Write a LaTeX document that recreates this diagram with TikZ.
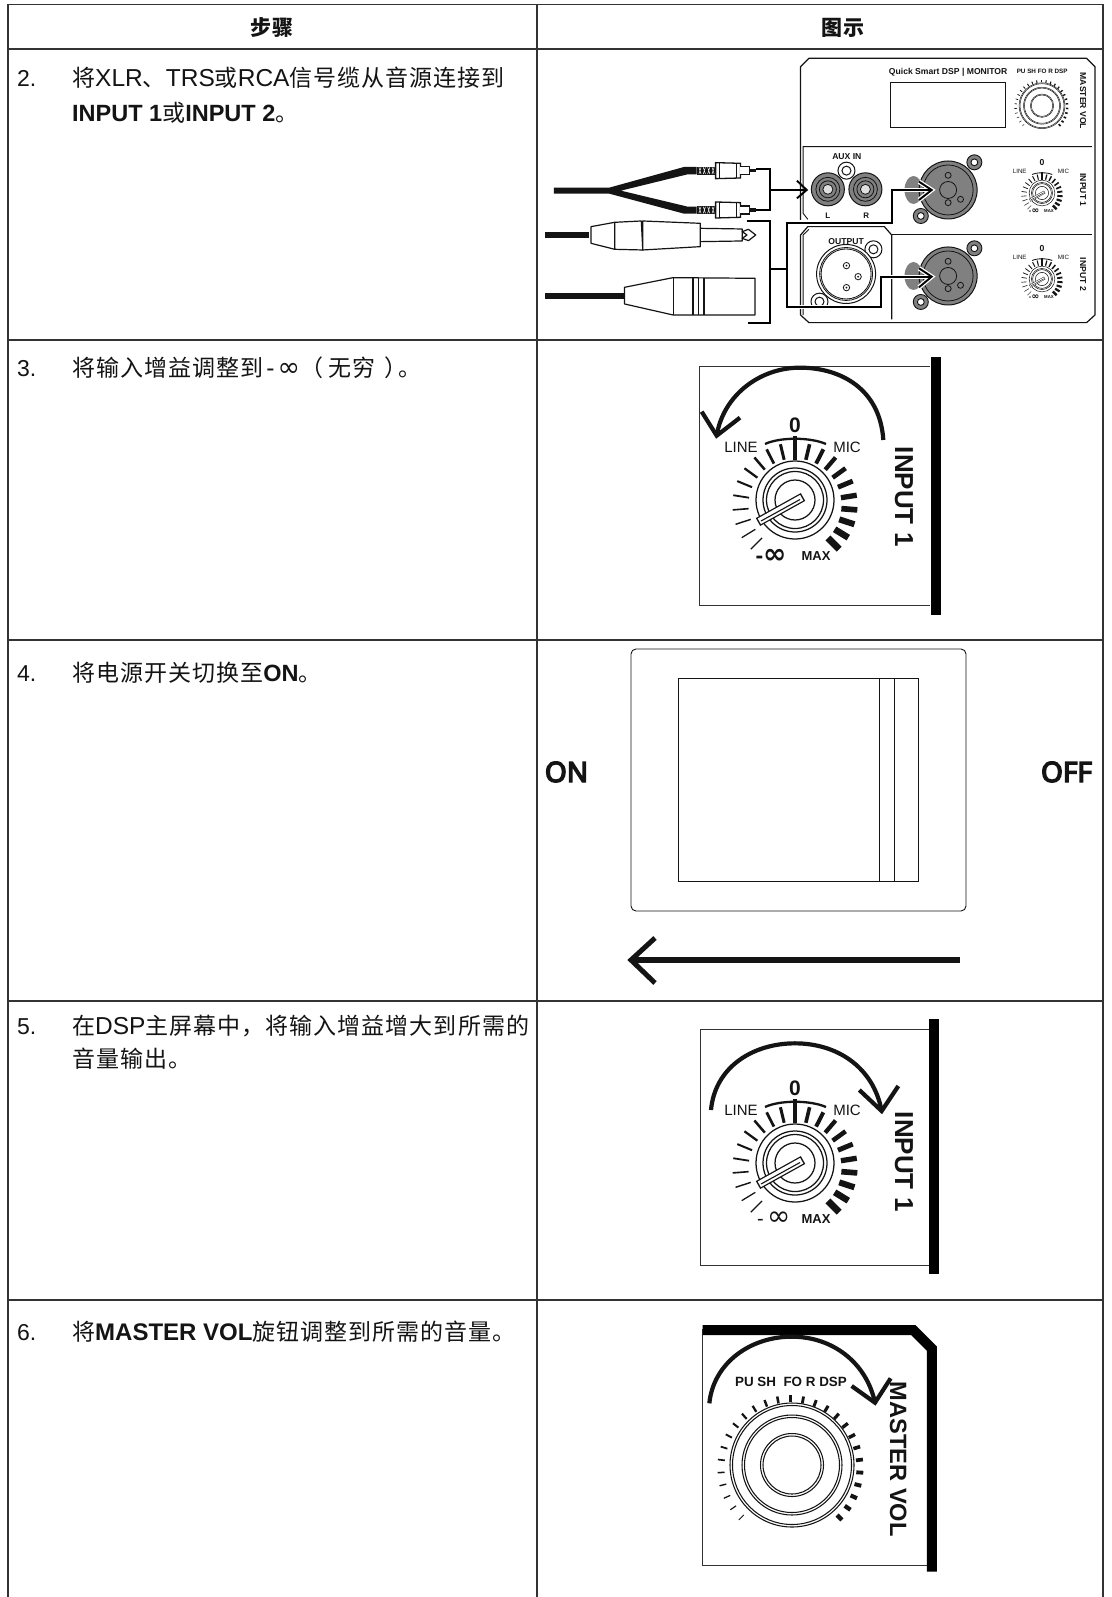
\documentclass[tikz,border=0pt]{standalone}
\usetikzlibrary{calc}
\usepackage{fontspec}
\setmainfont{Liberation Sans}
\newfontfamily\cjk[LetterSpace=4.5]{Noto Sans CJK SC}
\newfontfamily\dvs{DejaVu Sans}
\newfontfamily\noto[FakeBold=5]{Noto Sans}
\newcommand{\fsz}[1]{\fontsize{#1}{#1}\selectfont}
\newcommand{\C}[1]{{\fsz{23}\cjk #1}}
\newcommand{\HC}[1]{{\cjk #1}}
\newcommand{\Bn}[1]{{\fsz{23.5}\bfseries #1}}
\definecolor{ink}{gray}{0.08}
\definecolor{rulegray}{gray}{0.2}
\definecolor{jack}{gray}{0.5}
\tikzset{
  rowtext/.style={anchor=base west,inner sep=0pt,text=ink,font=\fsz{24.5}},
  head/.style={anchor=center,inner sep=0pt,text=ink,font=\fsz{21}\bfseries},
  tblline/.style={draw=rulegray,line width=1.1pt},
  lbl/.style={anchor=center,inner sep=0pt,text=ink},
  panel/.style={draw=ink,line width=1.2pt,line join=round},
  wire/.style={draw=black,line width=1.9pt,line join=miter},
  swing/.style={draw=ink,line width=4.2pt,line cap=butt,line join=miter},
  frameline/.style={draw=rulegray,line width=.9pt},
}
% input gain knob; #1,#2 centre, #3 scale, #4 infinity label, #5 name prefix, \lblk spreads the upper labels
\newcommand{\lblk}{1}
\newcommand{\inputknob}[5]{%
\begin{scope}[shift={(#1,#2)},scale=#3,transform shape]
  \foreach \i in {0,1,2,3,4,5,6,7,8,9,11,12,13,14,15,16,17,18,19,20}{
    \pgfmathsetmacro\ta{225-13.5*\i}
    \pgfmathsetmacro\tw{#3*(1+0.15*\i+0.007*\i*\i)+0.1}
    \draw[ink,line width=\tw pt] ($(0,5)+(-\ta:46.5)$) -- ($(0,5)+(-\ta:62.5)$);
  }
  \draw[ink,line width=#3*2.2pt+.1pt] (-30,-56) .. controls (-15,-63) and (15,-63) .. (31,-56);
  \draw[ink,line width=#3*3pt+.1pt] (0,-64) -- (0,-40);
  \draw[ink,line width=#3*1.1pt+.15pt,fill=white] (0,0) circle[radius=39];
  \draw[ink,line width=#3*1.1pt+.15pt] (0,0) circle[radius=32];
  \draw[ink,line width=#3*1.1pt+.15pt] (0,0) circle[radius=28.5];
  \draw[ink,line width=#3*1.1pt+.15pt] (0,0) circle[radius=20];
  \draw[ink,line width=#3*9pt] (-37,22) -- (8,-3);
  \draw[white,line width=#3*6.4pt] (-35.7,21.3) -- (6.7,-2.3);
  \draw[ink,line width=#3*1pt+.1pt] (-34,21) -- (5,-0.5);
  \node[lbl,font=\fsz{15},scale=\lblk] (#5line) at (\lblk*-54,\lblk*-53) {LINE};
  \node[lbl,font=\fsz{15},scale=\lblk] (#5mic) at (\lblk*52,\lblk*-53) {MIC};
  \node[lbl,font=\fsz{21}\bfseries,scale=\lblk] (#5zero) at (0,\lblk*-75) {0};
  \node[lbl,font=\fsz{13}\bfseries] (#5max) at (21,56) {MAX};
  \node[lbl] (#5inf) at (-24,56) {#4};
\end{scope}}
\newcommand{\masterknob}[3]{%
\begin{scope}[shift={(#1,#2)},scale=#3]
  \foreach \i in {0,...,26}{
    \pgfmathsetmacro\ta{225-270/26*\i}
    \pgfmathsetmacro\tw{#3*(0.9+0.13*\i)+0.1}
    \draw[ink,line width=\tw pt] ($(-1.6,3.3)+(-\ta:66)$) -- ($(-1.6,3.3)+(-\ta:73)$);
  }
  \foreach \r in {62,59.5,50,47.5,31.5,29}{
    \draw[ink,line width=#3*0.9pt+.15pt] (0,0) circle[radius=\r];
  }
\end{scope}}
\newcommand{\rcaplug}[1]{%
\begin{scope}[yshift=#1*-0.3333pt]
  \fill[ink] (430,-12) rectangle (482,12);
  \foreach \k in {436,448,460,472}{\draw[white,line width=.5pt] (\k,-10) -- (\k+6,10) (\k+6,-10) -- (\k,10);}
  \draw[ink,line width=1.3pt,fill=white] (482,-24) -- (550,-22) -- (550,22) -- (482,24) -- cycle;
  \draw[ink,line width=1pt] (492,-24) -- (492,24) (540,-22) -- (540,22);
  \draw[ink,line width=1.2pt,fill=white] (550,-12) -- (575,-12) -- (575,12) -- (550,12);
  \fill[ink] (575,-5) rectangle (594,5);
\end{scope}}
\newcommand{\combo}[2]{%
\begin{scope}[yshift=#2*-0.3333pt]
  \fill[jack] (1025,0) ellipse[x radius=9pt,y radius=14pt];
  \draw[ink,line width=.9pt,fill=jack] (1192,-83) circle[radius=7.5pt];
  \draw[ink,line width=.9pt,fill=white] (1192,-83) circle[radius=3.4pt];
  \draw[ink,line width=.9pt,fill=jack] (1045,78) circle[radius=7.5pt];
  \draw[ink,line width=.9pt,fill=white] (1045,78) circle[radius=3.4pt];
  \draw[ink,line width=1pt,fill=jack] (1120,0) circle[radius=29pt];
  \draw[ink,line width=.8pt] (1120,0) circle[radius=25pt];
  \draw[ink,line width=.8pt,fill=jack] (1120,0) circle[radius=8.5pt];
  \draw[ink,line width=.8pt,fill=jack] (1120,-44) circle[radius=3pt] (1154,28) circle[radius=3pt] (1120,38) circle[radius=3pt];
\end{scope}}
\begin{document}
\begin{tikzpicture}[x=1pt,y=-1pt]
\useasboundingbox (0,0) rectangle (1111,1597);
\fill[white] (0,0) rectangle (1111,1597);
% table
\draw[tblline] (8,1597) -- (8,4.5) -- (1103,4.5) -- (1103,1597);
\draw[tblline] (537,4.5) -- (537,1597);
\foreach \yy in {49,340,640,1001,1300}{\draw[tblline] (8,\yy) -- (1103,\yy);}
\node[head] (h1) at (272,28) {\HC{步骤}};
\node[head] (h2) at (843,28) {\HC{图示}};
% left column
\node[rowtext,font=\fsz{23}] (n2) at (17,87) {2.};
\node[rowtext] (t2a) at (72,87) {\C{将}XLR\C{、}TRS\C{或}RCA\C{信号缆从音源连接到}};
\node[rowtext] (t2b) at (72,122) {\Bn{INPUT 1}\C{或}\Bn{INPUT 2}\C{。}};
\node[rowtext,font=\fsz{23}] (n3) at (17,376) {3.};
\node[rowtext] (t3) at (72,376) {\C{将输入增益调整到}\hspace{3pt}-\hspace{3pt}{\dvs\fsz{27}∞}\C{（}\hspace{5pt}\C{无穷}\hspace{9pt}\C{）}\hspace{-9pt}\C{。}};
\node[rowtext,font=\fsz{23}] (n4) at (17,681) {4.};
\node[rowtext] (t4) at (72,681) {\C{将电源开关切换至}\Bn{ON}\C{。}};
\node[rowtext,font=\fsz{23}] (n5) at (17,1034) {5.};
\node[rowtext] (t5a) at (72,1034) {\C{在}DSP\C{主屏幕中，将输入增益增大到所需的}};
\node[rowtext] (t5b) at (72,1067) {\C{音量输出。}};
\node[rowtext,font=\fsz{23}] (n6) at (17,1340) {6.};
\node[rowtext] (t6) at (72,1340) {\C{将}{\fsz{24}\bfseries MASTER VOL}\C{旋钮调整到所需的音量。}};

% ---------- row 2 figure
\begin{scope}[shift={(540,50)},x=0.3644pt,y=-0.3333pt]
  \draw[panel] (715,510) -- (715,50) -- (738,25) -- (1500,25) -- (1523,50) -- (1523,795) -- (1500,818) -- (738,818) -- (715,795) -- (715,555) -- (735,530) -- (945,530) -- (965,555) -- (965,808);
  \draw[ink,line width=.9pt] (722,795) -- (722,555) -- (738,538);
  \draw[ink,line width=.9pt] (735,508) -- (722,490) -- (722,290) -- (1515,290);
  \draw[ink,line width=.9pt] (965,552) -- (1515,552);
  \node[lbl,font=\fsz{8.6}\bfseries] (qs) at (1120,68) {Quick Smart DSP | MONITOR};
  \draw[ink,line width=.9pt] (962,96) rectangle (1276,231);
  \node[lbl,font=\fsz{6.3}\bfseries] (push) at (1378,65) {PU SH FO R DSP};
  \node[lbl,font=\fsz{8.6}\bfseries,rotate=-90] (mv) at (1490,153) {MASTER VOL};
  \node[lbl,font=\fsz{8.6}\bfseries,rotate=-90] (i1) at (1490,420) {INPUT 1};
  \node[lbl,font=\fsz{8.6}\bfseries,rotate=-90] (i2) at (1490,673) {INPUT 2};
  % aux
  \node[lbl,font=\fsz{8.6}\bfseries] (aux) at (842,320) {AUX IN};
  \node[lbl,font=\fsz{8}\bfseries] (ll) at (790,498) {L};
  \node[lbl,font=\fsz{8}\bfseries] (rr) at (895,498) {R};
  \draw[ink,line width=1pt] (841,362) circle[radius=8.5pt] (841,362) circle[radius=4.5pt];
  \foreach \xx in {790,893}{
    \draw[ink,line width=1pt,fill=jack] (\xx,418) circle[radius=16.5pt];
    \draw[ink,line width=.8pt] (\xx,418) circle[radius=12pt] (\xx,418) circle[radius=8.5pt];
    \draw[ink,line width=.8pt,fill=white!75!jack] (\xx,418) circle[radius=5pt];
  }
  % combos
  \combo{1}{420}
  \combo{2}{678}
  % output XLR
  \node[lbl,font=\fsz{8.6}\bfseries] (out) at (840,576) {OUTPUT};
  \draw[ink,line width=1pt] (915,598) circle[radius=8.5pt] (915,598) circle[radius=4.5pt];
  \draw[ink,line width=1pt,fill=white] (840,672) circle[radius=29.5pt];
  \draw[ink,line width=.8pt] (840,672) circle[radius=26.5pt] (840,672) circle[radius=25pt];
  \foreach \px/\py in {841/647,873/680,841/713}{
    \draw[ink,line width=.8pt] (\px,\py) circle[radius=3.2pt];
    \fill[ink] (\px,\py) circle[radius=1pt];
  }
  \begin{scope}
    \clip (740,715) rectangle (800,765);
    \draw[ink,line width=1pt] (767,755) circle[radius=8.5pt] (767,755) circle[radius=4.5pt];
  \end{scope}
  % Y cable
  \fill[ink] (38,413) -- (190,413) -- (395,351) -- (430,351) -- (430,373) -- (405,373) -- (222,422) -- (405,470) -- (430,470) -- (430,491) -- (395,491) -- (190,431) -- (38,431) -- cycle;
  \rcaplug{362}
  \rcaplug{480}
  \coordinate (rtop) at (594,358);
  \coordinate (rbot) at (594,480);
  \coordinate (rmid) at (630,420);
  \coordinate (auxtip) at (732,420);
  \draw[wire] (rtop) -| (rmid) |- (rbot);
  \draw[wire] (rmid) -- (auxtip);
  \draw[wire] (705,392) -- (auxtip) -- (705,445);
  % TRS
  \draw[ink,line width=5.5pt] (15,555) -- (135,555);
  \draw[ink,line width=1.2pt,line join=round,fill=white] (140,530) -- (205,517) -- (205,598) -- (140,580) -- cycle;
  \draw[ink,line width=1.2pt,line join=round,fill=white] (205,517) -- (278,513) -- (282,600) -- (205,598) -- cycle;
  \draw[ink,line width=1.2pt,line join=round,fill=white] (282,513) -- (440,520) -- (440,590) -- (282,600) -- cycle;
  \draw[ink,line width=1.2pt,line join=round] (440,535) -- (555,537) -- (555,573) -- (440,575);
  \draw[ink,line width=1.2pt,line join=round] (555,545) -- (572,538) -- (592,555) -- (572,572) -- (555,565) -- (568,555) -- cycle;
  % XLR plug
  \draw[ink,line width=5.5pt] (15,738) -- (230,738);
  \draw[ink,line width=1.2pt,line join=round,fill=white] (232,712) -- (365,683) -- (590,685) -- (590,795) -- (365,795) -- (232,762) -- cycle;
  \draw[ink,line width=1pt] (365,683) -- (365,795);
  \draw[ink,line width=2pt] (420,684) -- (420,795);
  \draw[ink,line width=1.2pt] (435,684) -- (435,795) (450,684) -- (450,795);
  % bracket
  \coordinate (bt) at (567,513);
  \coordinate (bb) at (572,818);
  \coordinate (bm) at (632,656);
  \coordinate (bj) at (678,656);
  \draw[wire] (bt) -| (bm) |- (bb);
  \draw[wire] (bm) -- (bj);
  % lines into combos
  \coordinate (c1) at (1075,420);
  \coordinate (c2) at (1075,680);
  \draw[white,line width=4pt] (678,518) -- (965,518) -- (965,420) -- (1040,420);
  \draw[white,line width=4pt] (678,772) -- (935,772) -- (935,680) -- (1040,680);
  \draw[white,line width=4.5pt] (1040,395) -- (c1) -- (1040,450);
  \draw[white,line width=4.5pt] (1040,655) -- (c2) -- (1040,712);
  \draw[white,line width=4pt] (1040,420) -- (c1);
  \draw[white,line width=4pt] (1040,680) -- (c2);
  \draw[wire] (c1) -- (965,420) -- (965,518) -- (678,518) -- (678,772) -- (935,772) -- (935,680) -- (c2);
  \draw[wire] (1040,395) -- (c1) -- (1040,450);
  \draw[wire] (1040,655) -- (c2) -- (1040,712);
\end{scope}
\masterknob{1042}{105.7}{0.37}
\renewcommand{\lblk}{1.25}
\inputknob{1042}{193}{0.33}{{\fsz{23}\bfseries -}{\fsz{28}\dvs\bfseries ∞}}{a}
\inputknob{1042}{279}{0.33}{{\fsz{23}\bfseries -}{\fsz{28}\dvs\bfseries ∞}}{b}
\renewcommand{\lblk}{1}

% ---------- row 3 figure
\begin{scope}[shift={(680,345)},x=0.3333pt,y=-0.3333pt]
  \draw[frameline] (750,63) -- (57,63) -- (57,780) -- (750,780);
  \fill[black] (752,35) rectangle (782,810);
  \node[lbl,font=\fsz{26}\bfseries,rotate=-90] (in3) at (672,455) {INPUT 1};
  \coordinate (s3) at (610,285);
  \coordinate (e3) at (110,272);
  \draw[swing] (s3) .. controls (600,130) and (480,68) .. (360,68) .. controls (240,68) and (130,150) .. (e3);
  \draw[swing] (65,200) -- (e3) -- (180,218);
\end{scope}
\inputknob{795}{500}{1}{{\fsz{23}\bfseries -}{\fsz{28}\dvs\bfseries ∞}}{c}

% ---------- row 4 figure
\draw[draw=ink,line width=.9pt,rounded corners=5pt] (631,649) rectangle (966,911);
\draw[ink,line width=.9pt] (678.5,678) rectangle (918,881);
\draw[ink,line width=.9pt] (879.5,678) -- (879.5,881) (894.5,678) -- (894.5,881);
\node[lbl,font=\fsz{28}\noto] (on) at (566.5,772) {ON};
\node[lbl,font=\fsz{28}\noto] (off) at (1066.5,772) {OFF};
\coordinate (sa) at (960,960);
\coordinate (sb) at (631,960);
\draw[draw=ink,line width=6pt] (sa) -- (sb);
\draw[draw=ink,line width=5pt,line join=miter] (655,938) -- (631,960) -- (655,983);

% ---------- row 5 figure
\begin{scope}[shift={(680,1010)},x=0.3333pt,y=-0.3333pt]
  \draw[frameline] (750,57) -- (62,57) -- (62,765) -- (750,765);
  \fill[black] (746,28) rectangle (776,793);
  \node[lbl,font=\fsz{26}\bfseries,rotate=-90] (in5) at (672,455) {INPUT 1};
  \coordinate (s5) at (93,300);
  \coordinate (e5) at (605,303);
  \draw[swing] (s5) .. controls (105,170) and (220,100) .. (345,100) .. controls (470,100) and (580,170) .. (e5);
  \draw[swing] (538,240) -- (e5) -- (655,228);
\end{scope}
\inputknob{795}{1163}{1}{{\fsz{20} -\,}{\fsz{28}\dvs ∞}}{d}

% ---------- row 6 figure
\begin{scope}[shift={(680,1280)},x=0.3333pt,y=-0.3333pt]
  \draw[frameline] (68,148) -- (68,855) -- (745,855);
  \draw[draw=black,line width=10pt,line join=miter] (68,150) -- (700,150) -- (756,206) -- (756,875);
  \node[lbl,font=\fsz{23.6}\bfseries,rotate=-90] (mv6) at (655,538) {MASTER VOL};
  \node[lbl,font=\fsz{13.4}\bfseries] (push6) at (333,305) {PU SH\ \ FO R DSP};
  \coordinate (s6) at (88,370);
  \coordinate (e6) at (585,368);
  \draw[swing] (s6) .. controls (100,250) and (210,170) .. (335,170) .. controls (460,170) and (560,250) .. (e6);
  \draw[swing] (515,318) -- (e6) -- (632,295);
\end{scope}
\masterknob{792}{1465}{1}
\end{tikzpicture}
\end{document}
